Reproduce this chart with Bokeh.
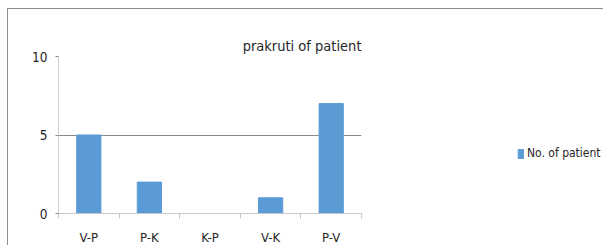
from bokeh.plotting import figure
from bokeh.models import FixedTicker, Legend, LegendItem, Range1d, ColumnDataSource
from bokeh.embed import file_html
from bokeh.resources import INLINE

categories = ["V-P", "P-K", "K-P", "V-K", "P-V"]
patients = [5, 2, 0, 1, 7]
y_ticks = [0, 5, 10]
series_name = "No. of patient"
chart_title = "prakruti of patient"

FONT = "'DejaVu Sans Condensed', 'Liberation Sans', sans-serif"
TXT = "#262626"
GRID = "#8a8a8a"
LIGHT = "#c8c8c8"

xs = [i + 0.5 for i in range(len(categories))]
source = ColumnDataSource(dict(x=xs, top=patients, cat=categories))

p = figure(frame_width=303, frame_height=157, output_backend="svg", toolbar_location=None,
           x_range=Range1d(0, len(categories)), y_range=Range1d(0, 10),
           min_border_left=50, min_border_top=47, min_border_right=242, min_border_bottom=32)
p.styles = {"border-top": "1px solid #8c8c8c", "border-left": "1px solid #8c8c8c",
            "margin-left": "7px", "margin-top": "8px"}
p.outline_line_color = None
p.background_fill_color = "white"
p.border_fill_color = "white"

r = p.vbar(x="x", top="top", bottom=0, width=0.4, color="#5b9bd5", source=source)

p.title.text = chart_title
p.title.align = "right"
p.title.text_font = FONT
p.title.text_font_size = "14.5px"
p.title.text_font_style = "normal"
p.title.text_color = TXT
p.title.standoff = 5

# y axis
p.yaxis.ticker = FixedTicker(ticks=y_ticks)
p.yaxis.axis_line_color = "#d0d0d0"
p.yaxis.major_tick_out = 3
p.yaxis.major_tick_in = 0
p.yaxis.major_tick_line_color = GRID
p.yaxis.minor_tick_line_color = None
p.yaxis.major_label_text_font = FONT
p.yaxis.major_label_text_font_size = "13.5px"
p.yaxis.major_label_text_color = TXT
p.yaxis.major_label_standoff = 8

p.ygrid.ticker = FixedTicker(ticks=y_ticks)
p.ygrid.grid_line_color = GRID
p.xgrid.grid_line_color = None

# x axis: labels at category centres, tick marks at category boundaries
p.xaxis.ticker = FixedTicker(ticks=xs, minor_ticks=list(range(len(categories) + 1)))
p.xaxis.major_label_overrides = {x: c for x, c in zip(xs, categories)}
p.xaxis.axis_line_color = LIGHT
p.xaxis.major_tick_line_color = None
p.xaxis.major_tick_out = 0
p.xaxis.major_tick_in = 0
p.xaxis.minor_tick_line_color = LIGHT
p.xaxis.minor_tick_out = 5
p.xaxis.minor_tick_in = 0
p.xaxis.major_label_text_font = FONT
p.xaxis.major_label_text_font_size = "13px"
p.xaxis.major_label_text_color = TXT
p.xaxis.major_label_standoff = 11

legend = Legend(items=[LegendItem(label=series_name, renderers=[r])],
                location=(156, 53), border_line_color=None, background_fill_alpha=0,
                padding=0, margin=0, glyph_width=7, glyph_height=11, label_standoff=3,
                label_text_font=FONT, label_text_font_size="12px", label_text_color=TXT,
                label_height=12)
p.add_layout(legend, "right")

open("out.html", "w").write(file_html(p, INLINE))
